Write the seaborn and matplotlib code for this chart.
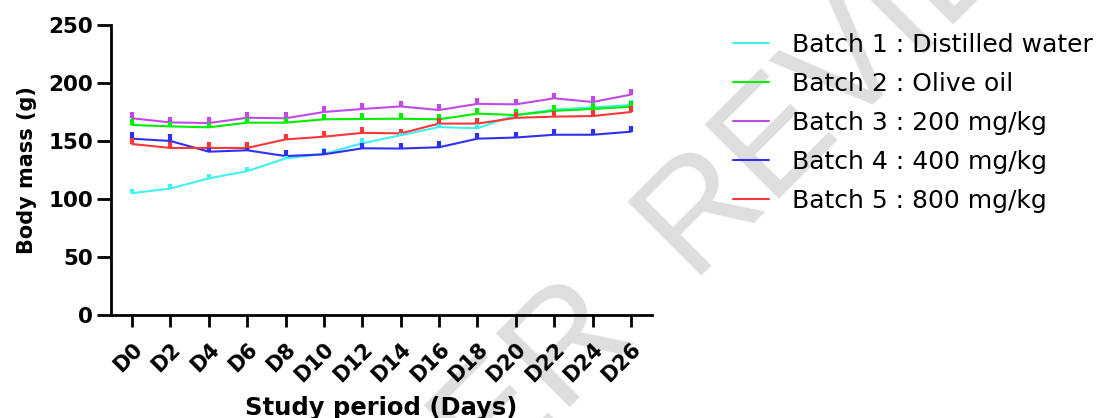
import matplotlib
matplotlib.use("Agg")
import matplotlib.pyplot as plt
import numpy as np
import pandas as pd
import seaborn as sns

days = [0, 2, 4, 6, 8, 10, 12, 14, 16, 18, 20, 22, 24, 26]
day_labels = ["D" + str(d) for d in days]

batch_names = [
    "Batch 1 : Distilled water",
    "Batch 2 : Olive oil",
    "Batch 3 : 200 mg/kg",
    "Batch 4 : 400 mg/kg",
    "Batch 5 : 800 mg/kg",
]

# mean body mass (g)
batch1 = [105, 109, 117.8, 124, 135, 138.8, 148, 155, 162, 161, 172.4, 177, 179, 181]
batch2 = [163.8, 162.6, 161.8, 165.8, 165.8, 168.7, 169, 169.2, 168.7, 173.6, 172.4, 176, 177.6, 179.6]
batch3 = [169.6, 166, 165.5, 170, 169.6, 175, 177.6, 179.8, 176.7, 182, 181.6, 186.8, 183.6, 190]
batch4 = [152, 150, 140.8, 142, 137, 138.5, 143.7, 143.5, 144.6, 152, 153, 155.4, 155.4, 158]
batch5 = [147.4, 144, 144, 144, 151.4, 153.7, 157, 156.6, 165, 165, 170, 171, 171.5, 175]

# upper error bars (SEM, g)
sem1 = [4, 4, 4, 4, 4, 5, 5, 4, 5, 4, 4, 4, 4, 4]
sem2 = [5, 5, 5, 5, 5, 5, 5, 5, 5, 5, 5, 5, 5, 5]
sem3 = [5, 5, 5, 5, 5, 5, 5, 5, 5, 5, 5, 5, 5, 5]
sem4 = [6, 6, 6, 5, 5, 5, 5, 5, 5, 5, 5, 5, 5, 5]
sem5 = [5, 5, 5, 5, 5, 5, 5, 4, 5, 5, 5, 5, 5, 5]

colors = ["#3ff2f2", "#00ee00", "#c04ae8", "#3030f0", "#f83838"]

means = [batch1, batch2, batch3, batch4, batch5]
sems = [sem1, sem2, sem3, sem4, sem5]

df = pd.DataFrame({
    "day": days * len(batch_names),
    "mass": sum(means, []),
    "sem": sum(sems, []),
    "batch": np.repeat(batch_names, len(days)),
})

sns.set_style("ticks", {"axes.edgecolor": "black", "text.color": "black",
                        "axes.labelcolor": "black", "xtick.color": "black",
                        "ytick.color": "black"})
plt.rcParams["font.family"] = ["DejaVu Sans"]

fig = plt.figure(figsize=(11.02, 4.18), dpi=100)
ax = fig.add_axes([0.1007, 0.2464, 0.491, 0.6938])
ax.patch.set_alpha(0)

# watermark
wm = dict(fontsize=110, color="#dedede", rotation=45, rotation_mode="anchor",
          va="baseline", zorder=-1, family="Liberation Sans")
fig.text(637 / 1102, 1 - 329 / 418, "PEER", ha="right", **wm)
fig.text(690 / 1102, 1 - 276 / 418, "REVIEW", ha="left", **wm)

sns.lineplot(data=df, x="day", y="mass", hue="batch", palette=colors,
             linewidth=1.5, ax=ax, errorbar=None)

for (name, grp), col in zip(df.groupby("batch", sort=False), colors):
    ax.errorbar(grp["day"], grp["mass"],
                yerr=[np.zeros(len(grp)), grp["sem"]],
                fmt="none", ecolor=col, elinewidth=3, capsize=0)

ax.set_xlim(-1.1, 27.1)
ax.set_ylim(0, 250)
ax.set_yticks([0, 50, 100, 150, 200, 250])
ax.set_xticks(days)
ax.set_xticklabels(day_labels, rotation=45, ha="right", rotation_mode="anchor")

for lab in ax.get_xticklabels() + ax.get_yticklabels():
    lab.set_fontweight("bold")
ax.tick_params(axis="y", labelsize=15.5, length=10, width=2, pad=3)
ax.tick_params(axis="x", labelsize=15, length=8.5, width=2, pad=9)

sns.despine(ax=ax)
for s in ["left", "bottom"]:
    ax.spines[s].set_linewidth(2)

ax.set_xlabel("Study period (Days)", fontsize=17.5, fontweight="bold", labelpad=7)
ax.set_ylabel("Body mass (g)", fontsize=15, fontweight="bold", labelpad=8)

ax.legend(loc="upper left", bbox_to_anchor=(733 / 1102, 1 - 33 / 418),
          bbox_transform=fig.transFigure, frameon=False, fontsize=18,
          handlelength=1.45, handletextpad=0.9, labelspacing=0.6,
          borderpad=0, borderaxespad=0)

fig.savefig("out.png", dpi=100)
